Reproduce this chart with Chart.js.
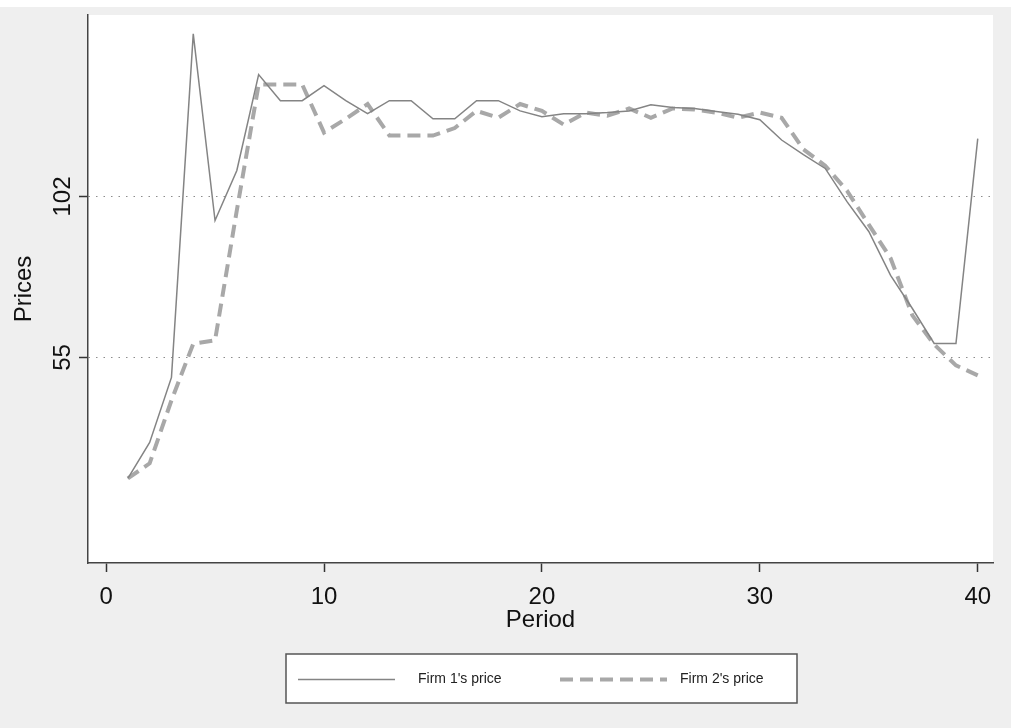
<!DOCTYPE html>
<html>
<head>
<meta charset="utf-8">
<script src="https://cdn.jsdelivr.net/npm/chart.js@4.4.1/dist/chart.umd.min.js"></script>
<style>
  html, body { margin: 0; padding: 0; background: #efefef; }
  #wrap { width: 1011px; height: 728px; }
</style>
</head>
<body>
<div id="wrap"><canvas id="myChart" width="1011" height="728"></canvas></div>
<script>
// Data
const periods = [1, 2, 3, 4, 5, 6, 7, 8, 9, 10, 11, 12, 13, 14, 15, 16, 17, 18, 19, 20,
                 21, 22, 23, 24, 25, 26, 27, 28, 29, 30, 31, 32, 33, 34, 35, 36, 37, 38, 39, 40];
const firm1Prices = [19.7, 30.2, 49.2, 149.5, 95, 109.6, 137.6, 130, 130, 134.4,
                     130, 126.2, 130, 130, 124.7, 124.7, 130, 130, 127, 125.3,
                     126.2, 126.2, 126.5, 127, 128.8, 128, 127.7, 126.8, 126, 124.4,
                     118.5, 114.2, 110.2, 100.5, 91.8, 79, 69.3, 59.1, 59.1, 118.9];
const firm2Prices = [19.7, 24.1, 42.5, 59, 60, 98, 134.7, 134.7, 134.7, 120.7,
                     124.7, 129, 119.8, 119.8, 119.8, 122, 127, 125, 129, 127,
                     123, 126.5, 125.6, 127.7, 125, 127.7, 127.4, 126.5, 125, 126.5,
                     125, 115.8, 111, 103.7, 93.8, 84, 67.3, 58.8, 52.7, 49.8];
const xTicks = [0, 10, 20, 30, 40];
const yTicks = [55, 102];
const seriesNames = ["Firm 1's price", "Firm 2's price"];

Chart.defaults.font.family = '"Liberation Sans", Arial, sans-serif';
Chart.defaults.color = '#111';

const toPoints = (xs, ys) => xs.map((x, i) => ({ x: x, y: ys[i] }));

// Grey page, white plot region
const backdrop = {
    id: 'backdrop',
    beforeDraw(chart) {
        const { ctx, chartArea: a } = chart;
        ctx.save();
        ctx.fillStyle = '#efefef';
        ctx.fillRect(0, 0, chart.width, chart.height);
        ctx.fillStyle = '#ffffff';
        ctx.fillRect(0, 0, chart.width, 7);
        ctx.fillRect(a.left, a.top, a.right - a.left, a.bottom - a.top);
        ctx.restore();
    }
};

// Stata style vertical y tick labels and boxed legend
const extras = {
    id: 'extras',
    afterDraw(chart) {
        const ctx = chart.ctx;
        const yScale = chart.scales.y;
        ctx.save();
        ctx.fillStyle = '#111';
        ctx.font = '24px "Liberation Sans", Arial, sans-serif';
        ctx.textAlign = 'center';
        ctx.textBaseline = 'middle';
        yTicks.forEach(v => {
            const py = yScale.getPixelForValue(v);
            ctx.save();
            ctx.translate(63, py);
            ctx.rotate(-Math.PI / 2);
            ctx.fillText(String(v), 0, 0);
            ctx.restore();
        });

        // legend
        const lx = 286, ly = 654, lw = 511, lh = 49, my = ly + lh / 2 + 1;
        ctx.fillStyle = '#ffffff';
        ctx.fillRect(lx, ly, lw, lh);
        ctx.strokeStyle = '#555';
        ctx.lineWidth = 1.5;
        ctx.strokeRect(lx, ly, lw, lh);

        const ds = chart.data.datasets;
        const samples = [[298, 395, 418], [560, 667, 680]];
        ds.forEach((d, i) => {
            const [x1, x2, tx] = samples[i];
            ctx.beginPath();
            ctx.strokeStyle = d.borderColor;
            ctx.lineWidth = d.borderWidth;
            ctx.setLineDash(d.borderDash || []);
            ctx.moveTo(x1, my);
            ctx.lineTo(x2, my);
            ctx.stroke();
            ctx.setLineDash([]);
            ctx.fillStyle = '#222';
            ctx.font = '14px "Liberation Sans", Arial, sans-serif';
            ctx.textAlign = 'left';
            ctx.fillText(d.label, tx, my);
        });
        ctx.restore();
    }
};

const ctx = document.getElementById('myChart').getContext('2d');
const myChart = new Chart(ctx, {
    type: 'line',
    data: {
        datasets: [{
            label: seriesNames[0],
            data: toPoints(periods, firm1Prices),
            borderColor: '#848484',
            borderWidth: 1.5,
            pointRadius: 0,
            tension: 0
        }, {
            label: seriesNames[1],
            data: toPoints(periods, firm2Prices),
            borderColor: '#a8a8a8',
            borderWidth: 4,
            borderDash: [13, 7],
            pointRadius: 0,
            tension: 0
        }]
    },
    options: {
        responsive: false,
        animation: false,
        layout: { padding: { left: 0, top: 15, right: 18, bottom: 93 } },
        plugins: {
            legend: { display: false },
            tooltip: { enabled: false }
        },
        scales: {
            x: {
                type: 'linear',
                min: -0.83,
                max: 40.7,
                afterBuildTicks: s => { s.ticks = xTicks.map(v => ({ value: v })); },
                afterFit: s => { s.height = 72; },
                ticks: { font: { size: 24 }, color: '#111', padding: 11, maxRotation: 0 },
                grid: { drawOnChartArea: false, tickLength: 9, tickColor: '#333', tickWidth: 1.5 },
                border: { display: true, color: '#444', width: 1.5 },
                title: { display: true, text: 'Period', font: { size: 24 }, color: '#111', padding: 0 }
            },
            y: {
                min: -5,
                max: 155,
                afterBuildTicks: s => { s.ticks = yTicks.map(v => ({ value: v })); },
                afterFit: s => { s.width = 88; },
                ticks: { display: false },
                grid: { color: '#8c8c8c', lineWidth: 1, tickLength: 9, tickColor: '#333', tickWidth: 1.5, tickBorderDash: [] },
                border: { display: true, color: '#444', width: 1.5, dash: [1.5, 6] },
                title: { display: true, text: 'Prices', font: { size: 24 }, color: '#111', padding: { top: 10, bottom: 0 } }
            }
        }
    },
    plugins: [backdrop, extras]
});
</script>
</body>
</html>
